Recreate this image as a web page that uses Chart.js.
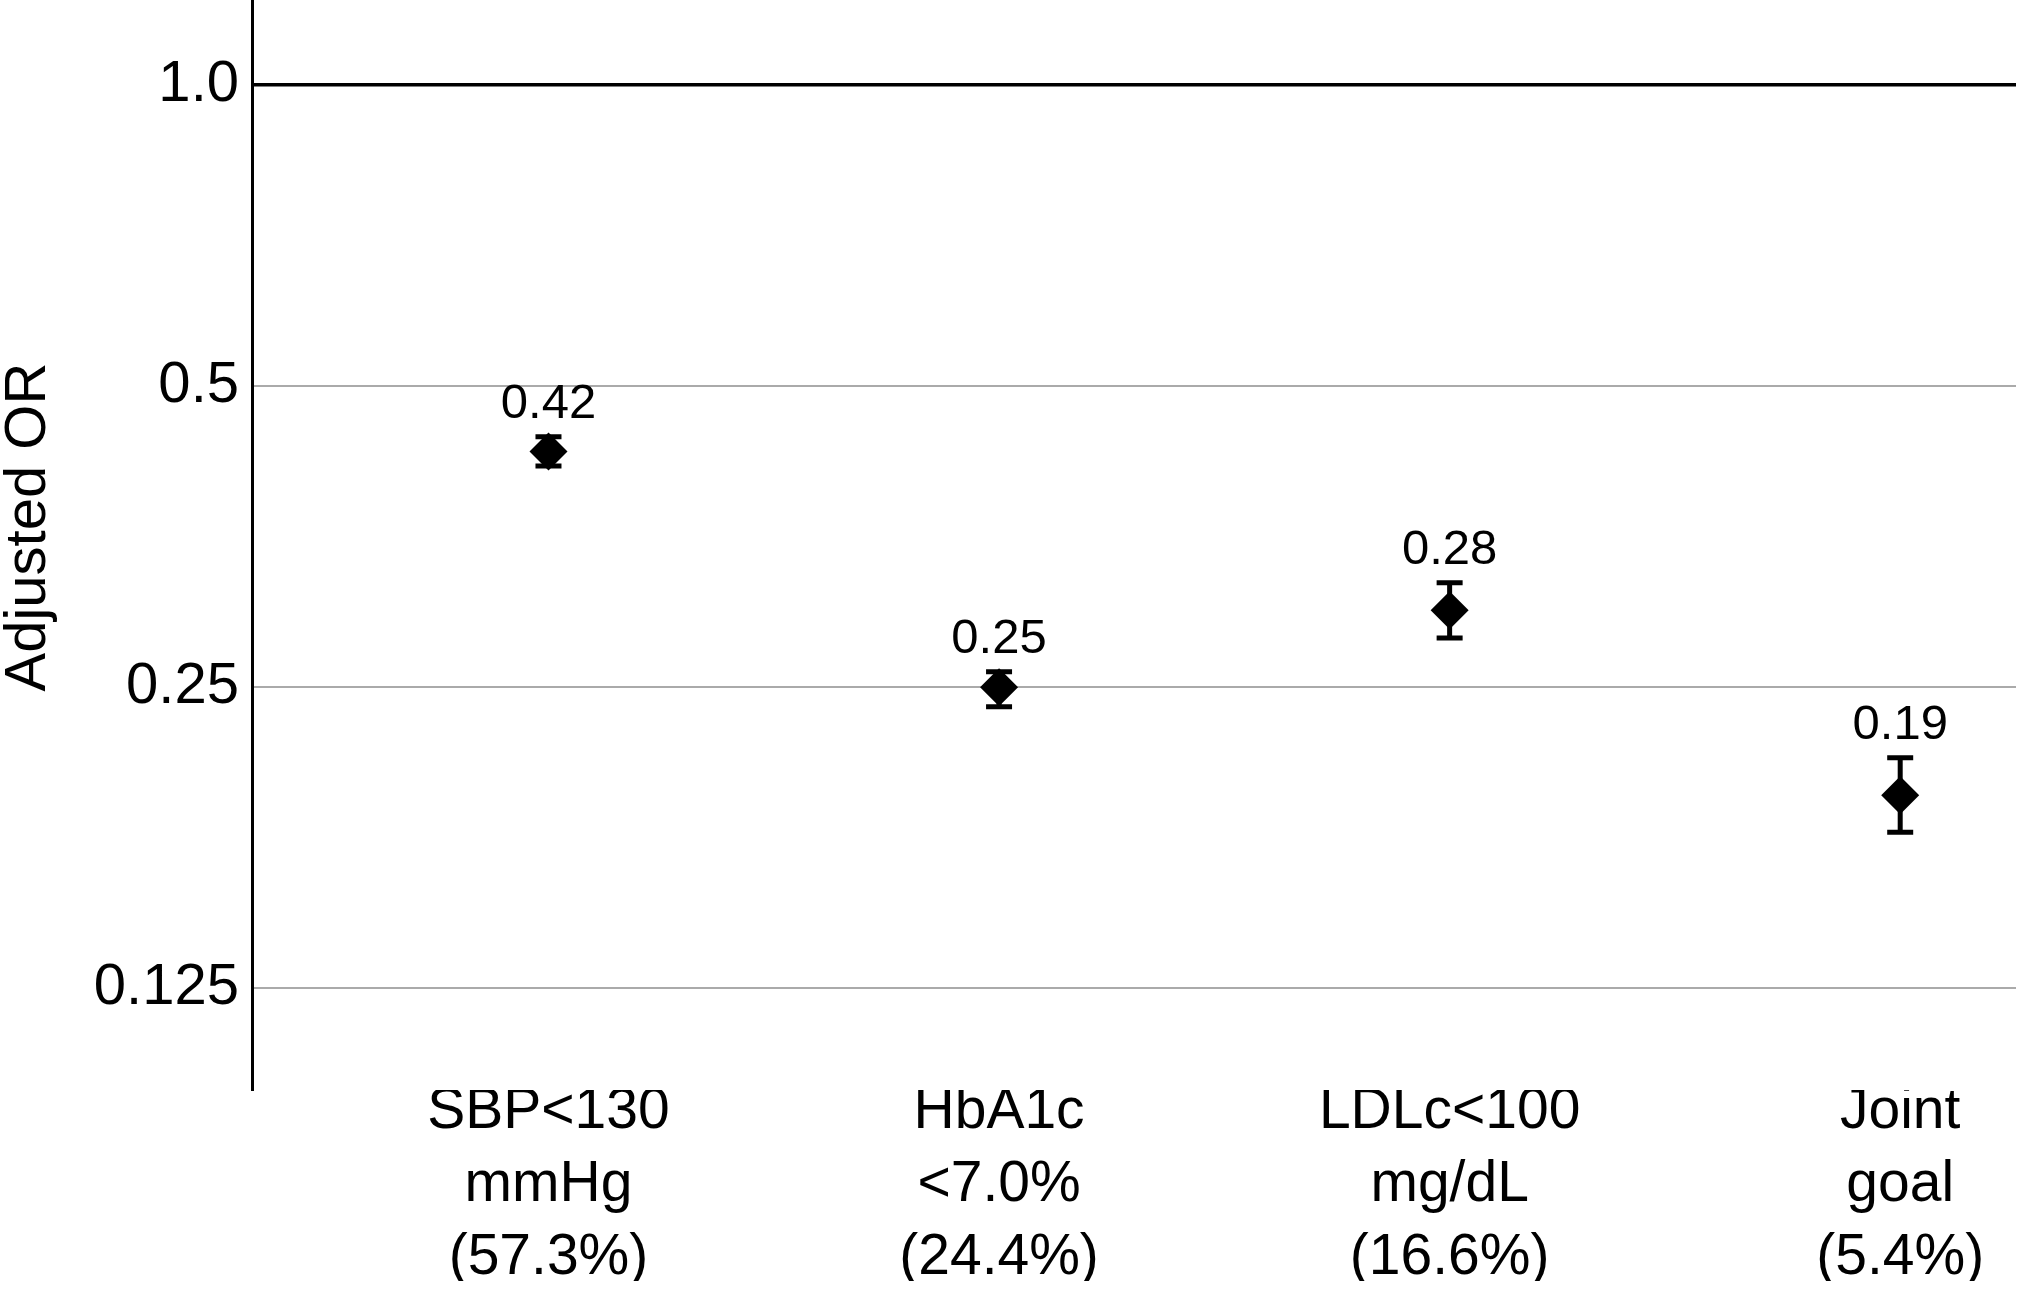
<!DOCTYPE html>
<html>
<head>
<meta charset="utf-8">
<script src="https://cdn.jsdelivr.net/npm/chart.js@4.4.1/dist/chart.umd.min.js"></script>
<style>
  html, body { margin: 0; padding: 0; background: #ffffff; }
  #wrap { width: 2022px; height: 1302px; position: relative; }
</style>
</head>
<body>
<div id="wrap"><canvas id="c"></canvas></div>
<script>
// ---- data ----
const categories = [
  ['SBP<130', 'mmHg', '(57.3%)'],
  ['HbA1c', '<7.0%', '(24.4%)'],
  ['LDLc<100', 'mg/dL', '(16.6%)'],
  ['Joint', 'goal', '(5.4%)']
];
const orValues = [0.430, 0.250, 0.2985, 0.195];
const ciLower  = [0.416, 0.239, 0.280, 0.179];
const ciUpper  = [0.445, 0.259, 0.318, 0.2126];
const valueLabels = ['0.42', '0.25', '0.28', '0.19'];
const yTickValues = [0.125, 0.25, 0.5, 1.0];
const yTickLabels = ['0.125', '0.25', '0.5', '1.0'];
const yAxisTitle = 'Adjusted OR';

const FONT = "'Liberation Sans', Arial, Helvetica, sans-serif";

const points = orValues.map((v, i) => ({ x: i + 1, y: v }));

const errorBars = {
  id: 'errorBars',
  beforeDatasetsDraw(chart) {
    const { ctx, scales: { x, y } } = chart;
    ctx.save();
    ctx.strokeStyle = '#000';
    ctx.lineWidth = 5;
    ctx.lineCap = 'butt';
    for (let i = 0; i < orValues.length; i++) {
      const px = x.getPixelForValue(i + 1);
      const yl = y.getPixelForValue(ciLower[i]);
      const yh = y.getPixelForValue(ciUpper[i]);
      ctx.beginPath();
      ctx.moveTo(px, yl); ctx.lineTo(px, yh);
      ctx.moveTo(px - 13, yl); ctx.lineTo(px + 13, yl);
      ctx.moveTo(px - 13, yh); ctx.lineTo(px + 13, yh);
      ctx.stroke();
    }
    ctx.restore();
  },
  afterDatasetsDraw(chart) {
    const { ctx, scales: { x, y } } = chart;
    ctx.save();
    ctx.fillStyle = '#000';
    ctx.font = '49px ' + FONT;
    ctx.textAlign = 'center';
    ctx.textBaseline = 'alphabetic';
    for (let i = 0; i < orValues.length; i++) {
      const px = x.getPixelForValue(i + 1);
      const yh = y.getPixelForValue(ciUpper[i]);
      ctx.fillText(valueLabels[i], px, yh - 19);
    }
    ctx.restore();
  },
  afterDraw(chart) {
    // y-axis title
    const { ctx, chartArea } = chart;
    ctx.save();
    ctx.fillStyle = '#000';
    ctx.font = '58px ' + FONT;
    ctx.textAlign = 'center';
    ctx.textBaseline = 'middle';
    ctx.translate(29, (chartArea.top + chartArea.bottom) / 2 - 18);
    ctx.rotate(-Math.PI / 2);
    ctx.fillText(yAxisTitle, 0, 0);
    ctx.restore();
  }
};

new Chart(document.getElementById('c'), {
  type: 'scatter',
  data: {
    datasets: [{
      data: points,
      pointStyle: 'rectRot',
      pointRadius: 19,
      pointHoverRadius: 19,
      backgroundColor: '#000',
      borderColor: '#000',
      borderWidth: 0,
      showLine: false
    }]
  },
  plugins: [errorBars],
  options: {
    responsive: true,
    maintainAspectRatio: false,
    devicePixelRatio: 1,
    animation: false,
    layout: { autoPadding: false, padding: { top: 0, right: 6, bottom: 21, left: 0 } },
    plugins: { legend: { display: false }, tooltip: { enabled: false } },
    scales: {
      x: {
        type: 'linear',
        min: 0.342,
        max: 4.257,
        afterBuildTicks(scale) {
          scale.ticks = categories.map((c, i) => ({ value: i + 1 }));
        },
        ticks: {
          padding: -14,
          color: '#000',
          maxRotation: 0,
          autoSkip: false,
          font: { family: FONT, size: 57, lineHeight: 1.28 },
          callback: (v) => categories[Math.round(v) - 1]
        },
        grid: { display: false, drawTicks: false },
        border: { display: false }
      },
      y: {
        type: 'logarithmic',
        min: 0.0989,
        max: 1.216,
        afterBuildTicks(scale) {
          scale.ticks = yTickValues.map(v => ({ value: v }));
        },
        afterFit(scale) {
          scale.width = 252;
          scale.paddingTop = 0;
          scale.paddingBottom = 0;
        },
        ticks: {
          padding: 13,
          color: '#000',
          font: { family: FONT, size: 58 },
          callback: (v) => {
            const i = yTickValues.indexOf(v);
            return i >= 0 ? yTickLabels[i] : '';
          }
        },
        grid: {
          drawTicks: false,
          color: (ctx) => (ctx.tick && ctx.tick.value === 1 ? '#000' : '#aaaaaa'),
          lineWidth: (ctx) => (ctx.tick && ctx.tick.value === 1 ? 3.5 : 2)
        },
        border: { display: true, color: '#000', width: 3 },
        title: { display: false, text: yAxisTitle }
      }
    }
  }
});
</script>
</body>
</html>
